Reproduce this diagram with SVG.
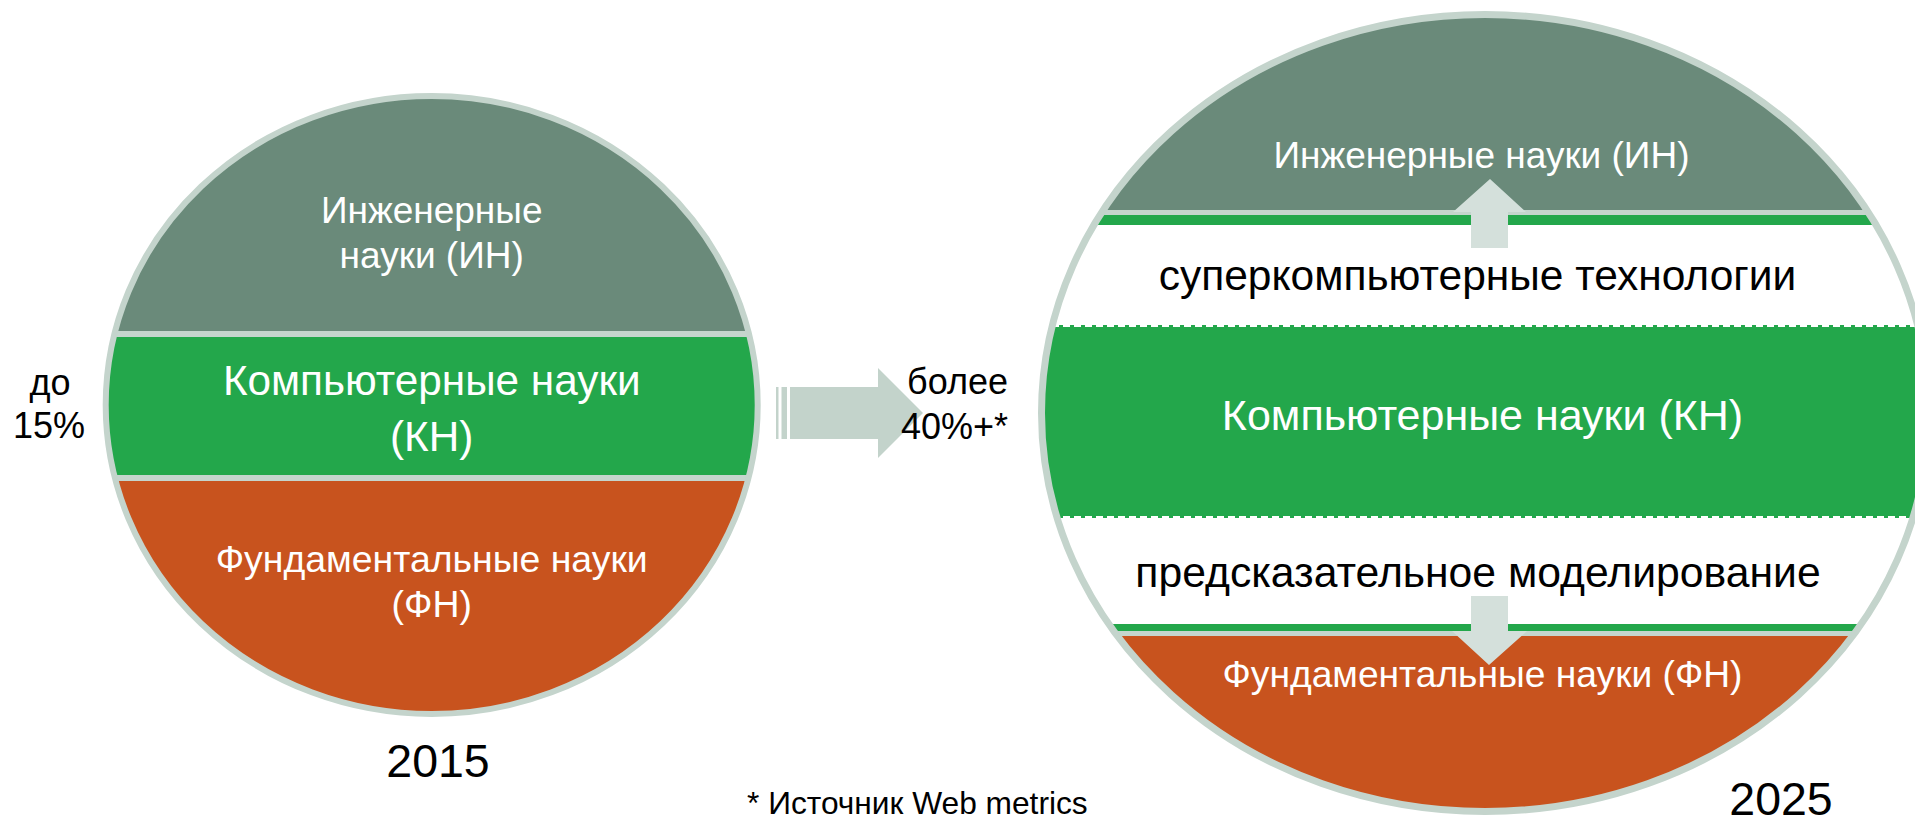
<svg xmlns="http://www.w3.org/2000/svg" width="1915" height="826" viewBox="0 0 1915 826">
<defs>
<style>
text{font-family:"Liberation Sans",Arial,sans-serif;}
.w{fill:#ffffff;}
.k{fill:#000000;}
.in{fill:#6a8a7a;}
.kn{fill:#23a74b;}
.fn{fill:#c8531e;}
.sep{fill:#c5d5cd;}
.outline{fill:none;stroke:#c4d4cc;}
.dash{stroke:#ffffff;stroke-width:2;stroke-dasharray:7 4;fill:none;}
.arr{fill:#c3d3cb;}
.arr2{fill:#d4e0db;}
</style>
<clipPath id="clipL"><ellipse cx="431.7" cy="405" rx="326" ry="309"/></clipPath>
<clipPath id="clipR"><ellipse cx="1485" cy="413" rx="443.5" ry="398.5"/></clipPath>
</defs>
<rect width="1915" height="826" fill="#ffffff"/>

<g id="circle2015">
<g clip-path="url(#clipL)">
<rect class="in" x="90" y="80" width="690" height="254"/>
<rect class="kn" x="90" y="334" width="690" height="144"/>
<rect class="fn" x="90" y="478" width="690" height="250"/>
<rect class="sep" x="90" y="331" width="690" height="6"/>
<rect class="sep" x="90" y="475" width="690" height="6"/>
</g>
<ellipse class="outline" cx="431.7" cy="405" rx="326" ry="309" stroke-width="6"/>
<text class="w" x="431.7" y="223" font-size="37" text-anchor="middle">Инженерные</text>
<text class="w" x="431.7" y="268" font-size="37" text-anchor="middle">науки (ИН)</text>
<text class="w" x="431.7" y="395" font-size="42.3" text-anchor="middle">Компьютерные науки</text>
<text class="w" x="431.7" y="451" font-size="42.3" text-anchor="middle">(КН)</text>
<text class="w" x="431.7" y="572" font-size="37.4" text-anchor="middle">Фундаментальные науки</text>
<text class="w" x="431.7" y="617" font-size="37.4" text-anchor="middle">(ФН)</text>
<text class="k" x="438" y="777" font-size="46.5" text-anchor="middle">2015</text>
<text class="k" x="50" y="395" font-size="36" text-anchor="middle">до</text>
<text class="k" x="49" y="438" font-size="36" text-anchor="middle">15%</text>
</g>

<g id="connectors">
<rect class="arr" x="776" y="387" width="2.5" height="52"/>
<rect class="arr" x="781.5" y="387" width="5.5" height="52"/>
<path class="arr" d="M790,387 H878 V368 L923,413 L878,458 V439 H790 Z"/>
</g>

<g id="growth-label">
<text class="k" x="1008" y="394" font-size="36" text-anchor="end">более</text>
<text class="k" x="1008" y="439" font-size="36" text-anchor="end">40%+*</text>
</g>

<g id="circle2025">
<ellipse cx="1485" cy="413" rx="443.5" ry="398.5" fill="#ffffff"/>
<g clip-path="url(#clipR)">
<rect class="in" x="1030" y="0" width="900" height="210"/>
<rect class="sep" x="1030" y="210" width="900" height="5"/>
<rect class="kn" x="1030" y="215" width="900" height="10"/>
<rect class="kn" x="1030" y="325" width="900" height="193"/>
<line class="dash" x1="1030" y1="326" x2="1930" y2="326"/>
<line class="dash" x1="1030" y1="517" x2="1930" y2="517"/>
<rect class="kn" x="1030" y="624" width="900" height="7"/>
<rect class="sep" x="1030" y="631" width="900" height="5"/>
<rect class="fn" x="1030" y="636" width="900" height="190"/>
</g>
<ellipse class="outline" cx="1485" cy="413" rx="443.5" ry="398.5" stroke-width="7"/>
<path class="arr2" d="M1471,248 V212 H1453 L1490,179 L1526,212 H1508 V248 Z"/>
<path class="arr2" d="M1471,596 H1508 V631 H1527 L1489,665 L1452,631 H1471 Z"/>
<text class="w" x="1481.5" y="168" font-size="37" text-anchor="middle">Инженерные науки (ИН)</text>
<text class="k" x="1477.5" y="290" font-size="42.5" text-anchor="middle">суперкомпьютерные технологии</text>
<text class="w" x="1482.5" y="430" font-size="43" text-anchor="middle">Компьютерные науки (КН)</text>
<text class="k" x="1478" y="587" font-size="42.7" text-anchor="middle">предсказательное моделирование</text>
<text class="w" x="1482.5" y="687" font-size="37.2" text-anchor="middle">Фундаментальные науки (ФН)</text>
<text class="k" x="1781" y="815" font-size="46.5" text-anchor="middle">2025</text>
</g>

<g id="footnote">
<text class="k" x="747" y="814" font-size="31.7">* Источник Web metrics</text>
</g>
</svg>
